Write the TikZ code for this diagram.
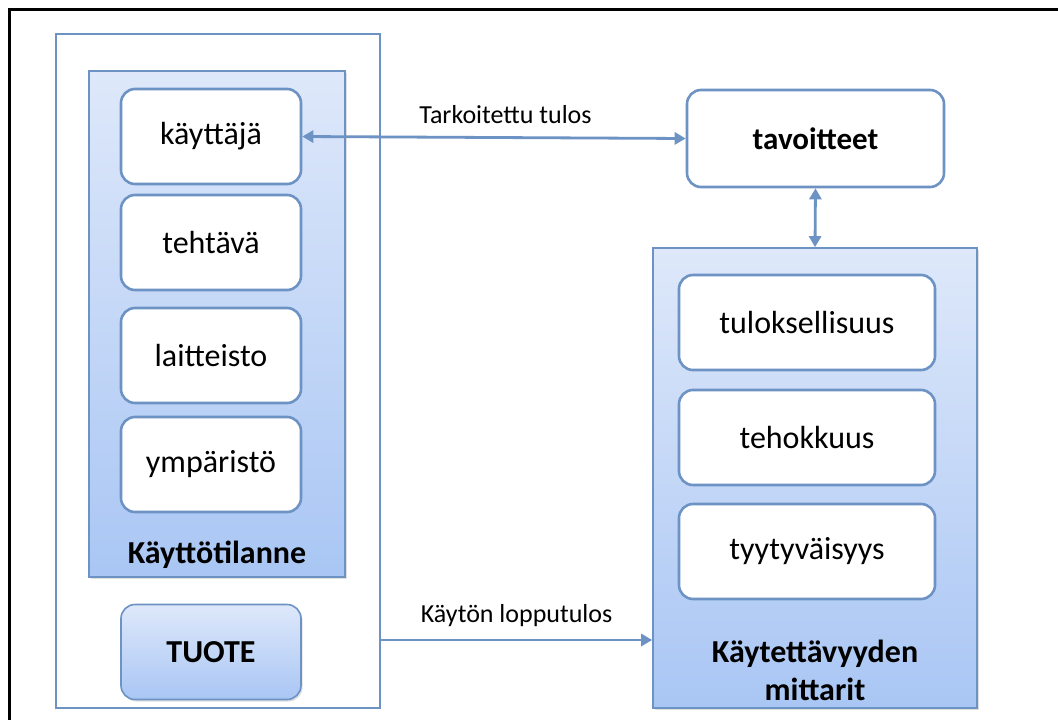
\documentclass[tikz,border=0pt]{standalone}
\usepackage{fontspec}
\setmainfont{Carlito}
\usetikzlibrary{arrows.meta,shadows,calc}
\definecolor{bord}{HTML}{6D93C4}
\definecolor{gtop}{HTML}{DEE8FA}
\definecolor{gbot}{HTML}{A9C6F4}
\tikzset{
  item/.style={draw=bord, line width=2.6pt, rounded corners=14pt, fill=white,
    minimum width=180pt, minimum height=95pt, font=\fontsize{32}{38}\selectfont, inner sep=0pt},
  gradbox/.style={draw=bord, line width=1.6pt, top color=gtop, bottom color=gbot,
    drop shadow={opacity=0.25, shadow xshift=1.5pt, shadow yshift=-2pt}},
  plainbox/.style={draw=bord, line width=2pt, fill=white},
  lbl/.style={font=\fontsize{26}{30}\selectfont},
  blbl/.style={font=\bfseries\fontsize{32}{38}\selectfont, align=center},
  conn/.style={draw=bord, line width=2.8pt, -{Triangle[length=11pt,width=12pt]}},
  conn2/.style={draw=bord, line width=2.8pt, {Triangle[length=11pt,width=12pt]}-{Triangle[length=11pt,width=12pt]}}
}
\begin{document}
\begin{tikzpicture}[x=1pt,y=-1pt]
\useasboundingbox (0,0) rectangle (1058,720);
\fill[white] (0,0) rectangle (1058,720);
% frame
\draw[line width=3pt] (9,722) -- (9,9) -- (1060,9);

% left outer box
\node[plainbox, minimum width=324pt, minimum height=674pt, inner sep=0pt] (outer) at (218,371) {};
\node[gradbox, minimum width=256pt, minimum height=506pt, inner sep=0pt] (ctx) at (217,324) {};
\node[blbl] (ctxlbl) at (217,555) {Käyttötilanne};

\node[item] (kayttaja) at (211,136.5) {käyttäjä};
\node[item] (tehtava) at (211,242.5) {tehtävä};
\node[item] (laitteisto) at (211,355.5) {laitteisto};
\node[item] (ymparisto) at (211,464.5) {ympäristö};

\node[item, line width=1.6pt, top color=gtop, bottom color=gbot, font=\bfseries\fontsize{32}{38}\selectfont,
  drop shadow={opacity=0.25, shadow xshift=1.5pt, shadow yshift=-2pt}] (tuote) at (211,652) {TUOTE};

% right side
\node[item, minimum width=257pt, minimum height=97pt, font=\bfseries\fontsize{31}{36}\selectfont] (tavoitteet) at (815.5,138.5) {tavoitteet};

\node[gradbox, minimum width=324pt, minimum height=460pt, inner sep=0pt] (metrics) at (815,478) {};
\node[blbl] (metlbl) at (815,670) {Käytettävyyden\\mittarit};

\node[item, minimum width=256pt] (tulos) at (807,322.5) {tuloksellisuus};
\node[item, minimum width=256pt] (tehokkuus) at (807,437.5) {tehokkuus};
\node[item, minimum width=256pt] (tyyty) at (807,551.5) {tyytyväisyys};

% connectors
\draw[conn2] (kayttaja.east) -- (tavoitteet.west)
  node[lbl, pos=0.53, above=9pt] (l1) {Tarkoitettu tulos};
\draw[conn2] (tavoitteet.south) -- (metrics.north);
\coordinate (ybot) at (0,640);
\draw[conn] (outer.east |- ybot) -- (metrics.west |- ybot)
  node[lbl, midway, above=9pt] (l2) {Käytön lopputulos};
\end{tikzpicture}
\end{document}
